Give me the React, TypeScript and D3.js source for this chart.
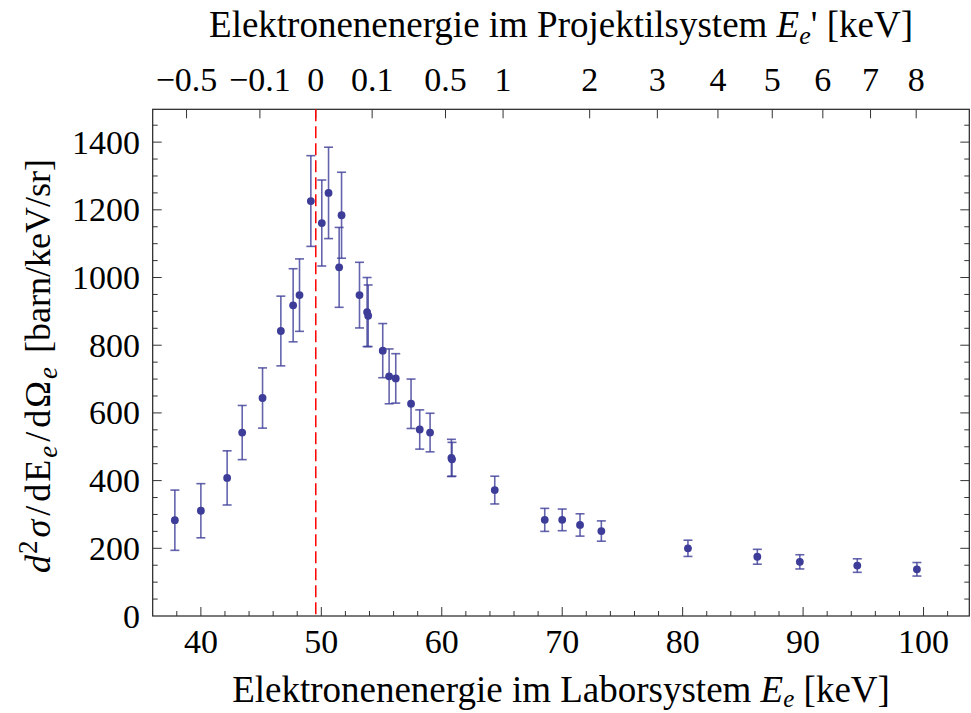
import { useEffect, useRef } from "react";
import * as d3 from "d3";

const WIDTH = 971;
const HEIGHT = 713;

// Laborenergie der Elektronen [keV]
const energies = [
  37.84, 40.0, 42.18, 43.43, 45.12, 46.64, 47.66, 48.19, 49.13, 50.04, 50.6,
  51.48, 51.68, 53.17, 53.8, 53.89, 55.1, 55.63, 56.18, 57.45, 58.17, 59.03,
  60.8, 60.85, 64.4, 68.55, 70.0, 71.48, 73.25, 80.44, 86.2, 89.73, 94.5, 99.45,
];

// d2sigma/dE/dOmega [barn/keV/sr]
const crossSections = [
  283, 311, 408, 542, 644, 842, 918, 948, 1226, 1161, 1250, 1030, 1184, 948,
  898, 887, 784, 708, 702, 627, 551, 542, 467, 463, 372, 284, 284, 269, 251,
  200, 175, 160, 149, 138,
];

const errors = [
  89, 80, 80, 80, 89, 103, 108, 107, 134, 127, 135, 118, 127, 97, 102, 91, 80,
  81, 73, 73, 58, 57, 55, 50, 41, 34, 32, 33, 30, 24, 22, 21, 20, 20,
];

const xTicks = [40, 50, 60, 70, 80, 90, 100];
const yTicks = [0, 200, 400, 600, 800, 1000, 1200, 1400];

// obere Achse: Projektilsystem, Position in Laborenergie
const topTickLabels = ["\u22120.5", "\u22120.1", "0", "0.1", "0.5", "1", "2", "3", "4", "5", "6", "7", "8"];
const topTickLabPos = [
  38.81, 44.9, 49.54, 54.22, 60.31, 65.09, 72.28, 77.9, 82.93, 87.44, 91.64,
  95.6, 99.39,
];

const cuspEnergy = 49.54;

const POINT = "#3d3d99";
const FONT = "'Liberation Serif', 'Times New Roman', serif";

type Part = { t: string; italic?: boolean; size?: number; dy?: number; dx?: number };

function appendParts(
  sel: d3.Selection<SVGTextElement, unknown, null, undefined>,
  parts: Part[]
) {
  parts.forEach((p) => {
    const ts = sel.append("tspan").text(p.t);
    if (p.italic) ts.attr("font-style", "italic");
    if (p.size) ts.attr("font-size", p.size);
    if (p.dy) ts.attr("dy", p.dy);
    if (p.dx) ts.attr("dx", p.dx);
  });
}

export default function App() {
  const svgRef = useRef<SVGSVGElement>(null);

  useEffect(() => {
    if (!svgRef.current) return;
    const svg = d3.select(svgRef.current);
    svg.selectAll("*").remove();

    const margin = { left: 152.7, right: 1.7, top: 109.3, bottom: 97 };
    const x = d3
      .scaleLinear()
      .domain([36, 103.8])
      .range([margin.left, WIDTH - margin.right]);
    const y = d3
      .scaleLinear()
      .domain([0, 1497])
      .range([HEIGHT - margin.bottom, margin.top]);

    const [x0, x1] = x.range();
    const [y0, y1] = y.range();
    const g = svg.append("g");

    // Rahmen
    g.append("rect")
      .attr("x", x0)
      .attr("y", y1)
      .attr("width", x1 - x0)
      .attr("height", y0 - y1)
      .attr("fill", "none")
      .attr("stroke", "#222")
      .attr("stroke-width", 1.2);

    // untere Achse
    d3.range(38, 104, 2).forEach((v) => {
      const major = v % 10 === 0;
      g.append("line")
        .attr("x1", x(v))
        .attr("x2", x(v))
        .attr("y1", y0)
        .attr("y2", y0 - (major ? 9 : 5))
        .attr("stroke", "#333")
        .attr("stroke-width", 1);
    });
    xTicks.forEach((v) => {
      g.append("text")
        .attr("x", x(v))
        .attr("y", 653)
        .attr("text-anchor", "middle")
        .attr("font-size", 34)
        .text(v);
    });

    // linke + rechte Achse
    d3.range(50, 1500, 50).forEach((v) => {
      const major = v % 200 === 0;
      const len = major ? 9 : 5;
      [
        [x0, x0 + len],
        [x1, x1 - len],
      ].forEach(([a, b]) => {
        g.append("line")
          .attr("x1", a)
          .attr("x2", b)
          .attr("y1", y(v))
          .attr("y2", y(v))
          .attr("stroke", "#333")
          .attr("stroke-width", 1);
      });
    });
    yTicks.forEach((v) => {
      g.append("text")
        .attr("x", 140)
        .attr("y", y(v) + 11.5)
        .attr("text-anchor", "end")
        .attr("font-size", 34)
        .text(v);
    });

    // obere Achse
    topTickLabPos.forEach((v, i) => {
      g.append("line")
        .attr("x1", x(v))
        .attr("x2", x(v))
        .attr("y1", y1)
        .attr("y2", y1 + 9)
        .attr("stroke", "#333")
        .attr("stroke-width", 1);
      g.append("text")
        .attr("x", x(v))
        .attr("y", 91)
        .attr("text-anchor", "middle")
        .attr("font-size", 34)
        .text(topTickLabels[i]);
    });

    // Cusp-Linie
    g.append("line")
      .attr("x1", x(cuspEnergy))
      .attr("x2", x(cuspEnergy))
      .attr("y1", y1)
      .attr("y2", y0)
      .attr("stroke", "#ff0000")
      .attr("stroke-width", 1.5)
      .attr("stroke-dasharray", "12,5");

    // Fehlerbalken
    const data = energies.map((e, i) => ({
      e,
      v: crossSections[i],
      err: errors[i],
    }));
    const bars = g.append("g").attr("stroke", POINT).attr("stroke-opacity", 0.8).attr("stroke-width", 1.6);
    data.forEach((d) => {
      const cx = x(d.e);
      const top = y(d.v + d.err);
      const bot = y(d.v - d.err);
      bars.append("line").attr("x1", cx).attr("x2", cx).attr("y1", top).attr("y2", bot);
      bars.append("line").attr("x1", cx - 4.5).attr("x2", cx + 4.5).attr("y1", top).attr("y2", top);
      bars.append("line").attr("x1", cx - 4.5).attr("x2", cx + 4.5).attr("y1", bot).attr("y2", bot);
    });

    g.selectAll(".pt")
      .data(data)
      .enter()
      .append("circle")
      .attr("class", "pt")
      .attr("cx", (d) => x(d.e))
      .attr("cy", (d) => y(d.v))
      .attr("r", 3.9)
      .attr("fill", POINT);

    // Achsenbeschriftungen
    const bottom = g
      .append("text")
      .attr("x", (x0 + x1) / 2)
      .attr("y", 702)
      .attr("text-anchor", "middle")
      .attr("font-size", 37);
    appendParts(bottom, [
      { t: "Elektronenenergie im Laborsystem " },
      { t: "E", italic: true },
      { t: "e", italic: true, size: 25, dy: 5 },
      { t: " [keV]", dy: -5 },
    ]);

    const topLabel = g
      .append("text")
      .attr("x", (x0 + x1) / 2)
      .attr("y", 37)
      .attr("text-anchor", "middle")
      .attr("font-size", 37);
    appendParts(topLabel, [
      { t: "Elektronenenergie im Projektilsystem " },
      { t: "E", italic: true },
      { t: "e", italic: true, size: 26, dy: 7 },
      { t: "' [keV]", dy: -7 },
    ]);

    const yLabel = g
      .append("text")
      .attr("transform", `translate(50, ${366}) rotate(-90)`)
      .attr("text-anchor", "middle")
      .attr("font-size", 36);
    appendParts(yLabel, [
      { t: "d", italic: true },
      { t: "2", size: 27, dy: -13, dx: 1 },
      { t: "\u03c3", italic: true, dy: 13, dx: 3 },
      { t: "/", dx: 4 },
      { t: "d", dx: 4 },
      { t: "E", dx: 2 },
      { t: "e", italic: true, size: 27, dy: 7, dx: 2 },
      { t: "/", dy: -7, dx: 4 },
      { t: "d", dx: 4 },
      { t: "\u03a9", dx: 2 },
      { t: "e", italic: true, size: 27, dy: 7, dx: 2 },
      { t: " [barn/keV/sr]", dy: -7, dx: 5 },
    ]);
  }, []);

  return (
    <svg
      ref={svgRef}
      width={WIDTH}
      height={HEIGHT}
      style={{ position: "absolute", left: 0, top: 0, background: "#fff", fontFamily: FONT }}
    />
  );
}
